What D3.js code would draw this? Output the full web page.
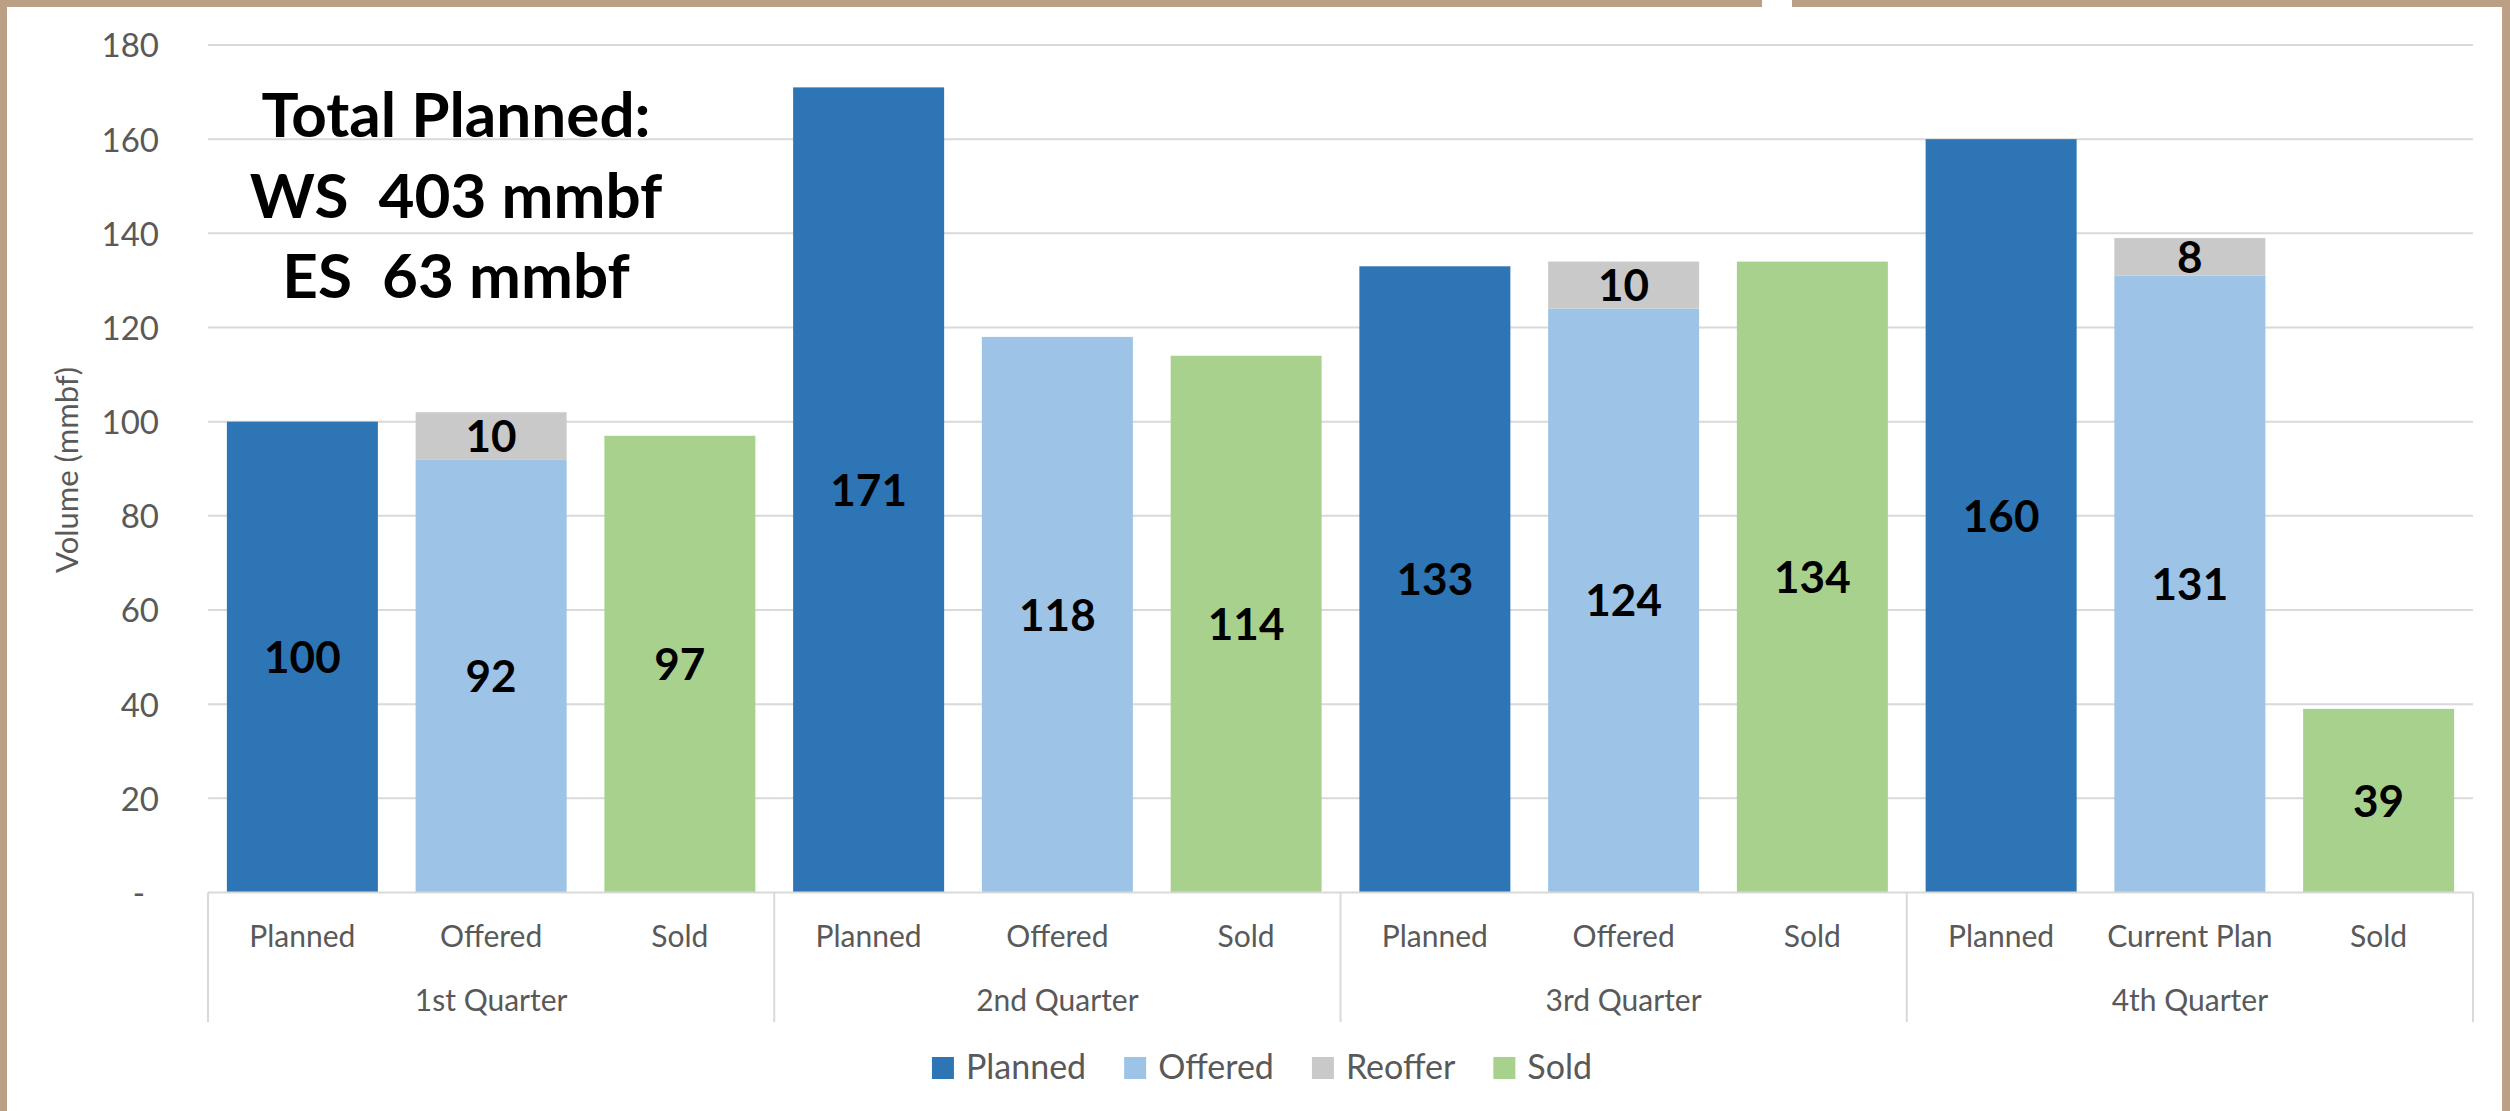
<!DOCTYPE html>
<html>
<head>
<meta charset="utf-8">
<script src="https://cdn.jsdelivr.net/npm/d3@7"></script>
<style>
  html, body { margin: 0; padding: 0; background: #fff; }
  svg { display: block; }
  text { font-family: Lato, "Open Sans", sans-serif; }
</style>
</head>
<body>
<svg id="chart" width="2510" height="1111"></svg>
<script>
// ---- data ----
const quarters = ["1st Quarter", "2nd Quarter", "3rd Quarter", "4th Quarter"];
const subCategories = [
  ["Planned", "Offered", "Sold"],
  ["Planned", "Offered", "Sold"],
  ["Planned", "Offered", "Sold"],
  ["Planned", "Current Plan", "Sold"]
];
const plannedValues = [100, 171, 133, 160];
const offeredValues = [92, 118, 124, 131];
const reofferValues = [10, 0, 10, 8];
const soldValues = [97, 114, 134, 39];
const yTicks = [0, 20, 40, 60, 80, 100, 120, 140, 160, 180];
const seriesNames = ["Planned", "Offered", "Reoffer", "Sold"];
const seriesColors = ["#2E75B6", "#9DC3E6", "#C9C9C9", "#A9D18E"];
const annotationLines = ["Total Planned:", "WS  403 mmbf", "ES  63 mmbf"];
const yTitle = "Volume (mmbf)";

// ---- build bar records ----
const bars = [];
quarters.forEach((q, qi) => {
  subCategories[qi].forEach((c, ci) => {
    const idx = qi * 3 + ci;
    const segs = [];
    if (ci === 0) segs.push({series: 0, y0: 0, y1: plannedValues[qi], v: plannedValues[qi]});
    if (ci === 1) {
      segs.push({series: 1, y0: 0, y1: offeredValues[qi], v: offeredValues[qi]});
      if (reofferValues[qi] > 0)
        segs.push({series: 2, y0: offeredValues[qi], y1: offeredValues[qi] + reofferValues[qi], v: reofferValues[qi]});
    }
    if (ci === 2) segs.push({series: 3, y0: 0, y1: soldValues[qi], v: soldValues[qi]});
    bars.push({idx, q: qi, label: c, segs});
  });
});

// ---- layout ----
const W = 2510, H = 1111;
const plotLeft = 208, plotRight = 2473, plotTop = 45, plotBottom = 892.5;
const svg = d3.select("#chart");

svg.append("rect").attr("width", W).attr("height", H).attr("fill", "#fff");

const x = d3.scaleBand().domain(d3.range(bars.length)).range([plotLeft, plotRight])
  .paddingInner(0.2).paddingOuter(0.1);
const step = x.step();
const y = d3.scaleLinear().domain([0, 180]).range([plotBottom, plotTop]);

// gridlines
svg.append("g").selectAll("line").data(yTicks.filter(d => d > 0)).join("line")
  .attr("x1", plotLeft).attr("x2", plotRight)
  .attr("y1", d => y(d)).attr("y2", d => y(d))
  .attr("stroke", "#D9D9D9").attr("stroke-width", 2);

// y tick labels
const yAxis = d3.axisLeft(y).tickValues(yTicks).tickSize(0).tickPadding(0)
  .tickFormat(d => d === 0 ? "-" : d3.format("d")(d));
const gy = svg.append("g").attr("transform", "translate(159,0)").call(yAxis);
gy.select(".domain").remove();
gy.selectAll("text")
  .attr("font-family", "Lato").attr("font-size", 33).attr("fill", "#595959")
  .attr("dy", "0.36em")
  .attr("x", d => d === 0 ? -14 : 0);

// y title
svg.append("text").attr("transform", "translate(67,470) rotate(-90)")
  .attr("text-anchor", "middle").attr("dy", "0.36em")
  .attr("font-size", 31).attr("fill", "#595959").text(yTitle);

// bars
const barG = svg.append("g");
bars.forEach(b => {
  b.segs.forEach(s => {
    barG.append("rect")
      .attr("x", x(b.idx)).attr("width", x.bandwidth())
      .attr("y", y(s.y1)).attr("height", y(s.y0) - y(s.y1))
      .attr("fill", seriesColors[s.series]);
  });
});
// data labels
bars.forEach(b => {
  b.segs.forEach(s => {
    barG.append("text")
      .attr("x", x(b.idx) + x.bandwidth() / 2)
      .attr("y", y((s.y0 + s.y1) / 2))
      .attr("dy", "0.36em").attr("text-anchor", "middle")
      .attr("font-size", 44).attr("font-weight", "bold").attr("fill", "#000")
      .text(s.v);
  });
});

// category axis
const axG = svg.append("g");
axG.append("line").attr("x1", plotLeft).attr("x2", plotRight)
  .attr("y1", plotBottom).attr("y2", plotBottom)
  .attr("stroke", "#D9D9D9").attr("stroke-width", 2);
const groupEdges = d3.range(quarters.length + 1).map(i => plotLeft + i * 3 * step);
axG.selectAll("line.sep").data(groupEdges).join("line").attr("class", "sep")
  .attr("x1", d => d).attr("x2", d => d)
  .attr("y1", plotBottom).attr("y2", 1022)
  .attr("stroke", "#D9D9D9").attr("stroke-width", 2);
axG.selectAll("text.cat").data(bars).join("text").attr("class", "cat")
  .attr("x", d => x(d.idx) + x.bandwidth() / 2).attr("y", 947)
  .attr("text-anchor", "middle").attr("font-size", 30).attr("fill", "#595959")
  .text(d => d.label);
axG.selectAll("text.qtr").data(quarters).join("text").attr("class", "qtr")
  .attr("x", (d, i) => plotLeft + (i * 3 + 1.5) * step).attr("y", 1011)
  .attr("text-anchor", "middle").attr("font-size", 30).attr("fill", "#595959")
  .text(d => d);

// legend
const legG = svg.append("g");
const items = seriesNames.map((n, i) => {
  const g = legG.append("g");
  g.append("rect").attr("width", 22).attr("height", 22).attr("y", 1057).attr("fill", seriesColors[i]);
  const t = g.append("text").attr("x", 34).attr("y", 1079).attr("font-size", 34).attr("fill", "#595959").text(n);
  return {g, w: 34 + t.node().getComputedTextLength()};
});
const gapItem = 38;
const total = d3.sum(items, d => d.w) + gapItem * (items.length - 1);
let cx = 1262 - total / 2;
items.forEach(it => { it.g.attr("transform", `translate(${cx},0)`); cx += it.w + gapItem; });

// annotation
const ann = svg.append("text").attr("text-anchor", "middle").attr("font-size", 62)
  .attr("font-weight", "bold").attr("fill", "#000").style("white-space", "pre");
annotationLines.forEach((l, i) => {
  ann.append("tspan").attr("x", 456).attr("y", 137 + i * 80.5).text(l);
});

// frame border
const border = "#BBA086";
svg.append("rect").attr("x", 0).attr("y", 0).attr("width", 7).attr("height", H).attr("fill", border);
svg.append("rect").attr("x", 2502).attr("y", 0).attr("width", 8).attr("height", H).attr("fill", border);
svg.append("rect").attr("x", 0).attr("y", 0).attr("width", 1762).attr("height", 7).attr("fill", border);
svg.append("rect").attr("x", 1792).attr("y", 0).attr("width", 718).attr("height", 7).attr("fill", border);
</script>
</body>
</html>
